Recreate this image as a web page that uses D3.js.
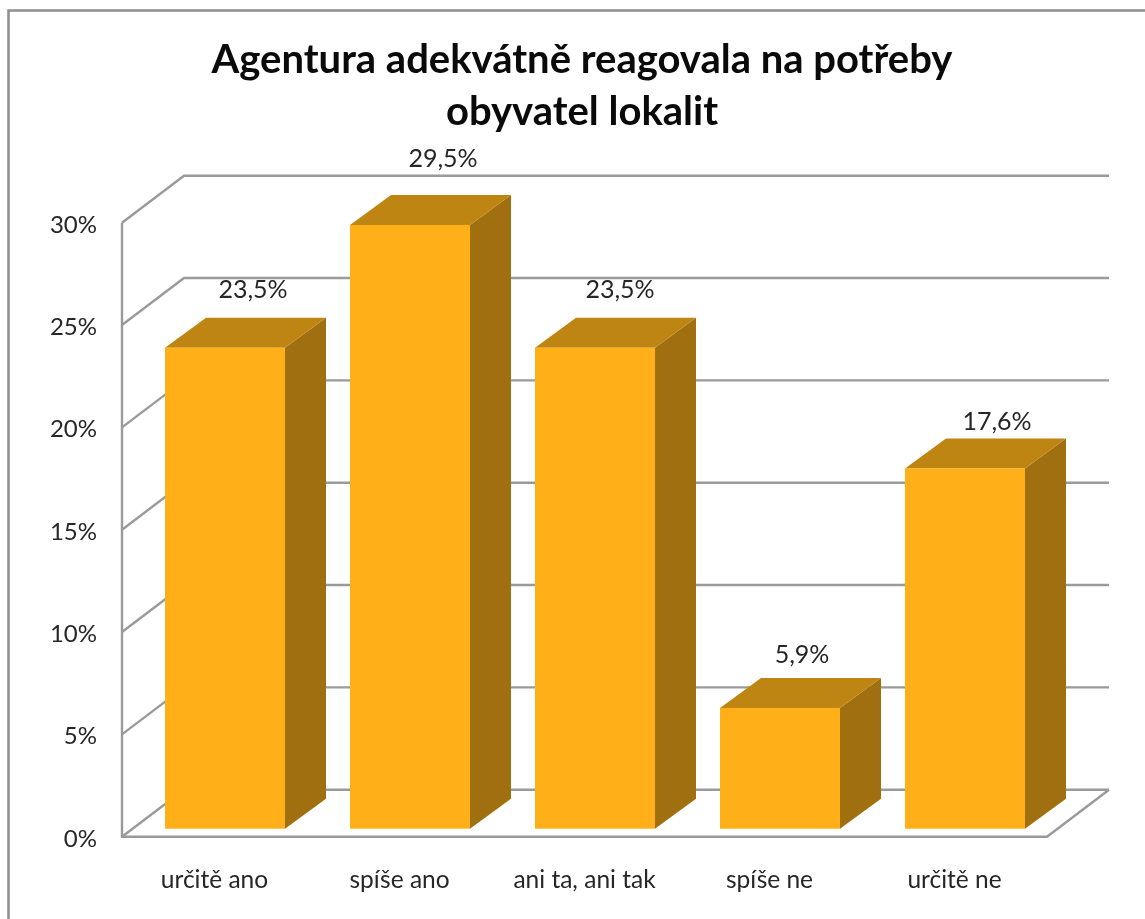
<!DOCTYPE html>
<html>
<head>
<meta charset="utf-8">
<script src="https://cdn.jsdelivr.net/npm/d3@7/dist/d3.min.js"></script>
<style>
html,body{margin:0;padding:0;background:#fff;}
svg{display:block;filter:blur(0.45px);}
text{font-family:Lato,"Noto Sans",sans-serif;fill:#262626;}
</style>
</head>
<body>
<svg id="c" width="1145" height="919"></svg>
<script>
const categories = ["určitě ano","spíše ano","ani ta, ani tak","spíše ne","určitě ne"];
const values = [23.5,29.5,23.5,5.9,17.6];
const valueLabels = ["23,5%","29,5%","23,5%","5,9%","17,6%"];
const yTicks = [0,5,10,15,20,25,30];
const titleLines = ["Agentura adekvátně reagovala na potřeby","obyvatel lokalit"];

const svg = d3.select("#c");
const plotL=122,plotR=1047,plotB=836.7,plotT=222.7;
const wallDx=62,wallDy=-47;       // wall depth
const barDx=41,barDy=-30;         // bar depth
const barInsetX=43,barInsetY=-8,barW=120;
const labelNudge=[[-13,1],[-8,-7],[-16,1],[-19,6],[-9,13]];
const grey="#9a9a9a";

const x=d3.scaleBand().domain(categories).range([plotL,plotR]);
const y=d3.scaleLinear().domain([0,30]).range([plotB,plotT]);

// chart frame
svg.append("path").attr("d","M8.5,919V10.5H1145").attr("fill","none").attr("stroke","#8f8f8f").attr("stroke-width",2.6);

// title
svg.append("g").selectAll("text").data(titleLines).join("text")
  .attr("x",582).attr("y",(d,i)=>73+i*52).attr("text-anchor","middle")
  .attr("font-size",40).attr("font-weight",700).style("fill","#0a0a0a").text(d=>d);

// walls and gridlines
const grid=svg.append("g").attr("fill","none").attr("stroke",grey).attr("stroke-width",2.4);
yTicks.forEach(t=>{
  grid.append("path").attr("d",`M${plotL},${y(t)}L${plotL+wallDx},${y(t)+wallDy}H${plotR+wallDx}`);
});
grid.append("path").attr("d",`M${plotL},${plotT}V${plotB}H${plotR}L${plotR+wallDx},${plotB+wallDy}`);

// value axis
const yAxis=svg.append("g").attr("transform",`translate(${plotL},0)`)
  .call(d3.axisLeft(y).tickValues(yTicks).tickSize(0).tickPadding(25).tickFormat(d=>d+"%"));
yAxis.select(".domain").remove();
yAxis.selectAll("text").attr("font-size",24).attr("dy","0.4em").style("fill","#262626");

// category axis
const xAxis=svg.append("g").attr("transform",`translate(0,${plotB})`)
  .call(d3.axisBottom(x).tickSize(0).tickPadding(34));
xAxis.select(".domain").remove();
xAxis.selectAll("text").attr("font-size",24.5).attr("dy","0.71em").style("fill","#262626");

// 3D bars
const bars=svg.append("g").selectAll("g").data(categories).join("g");
const bx=c=>x(c)+barInsetX;
const by=i=>y(values[i])+barInsetY;
const by0=y(0)+barInsetY;
bars.append("path").attr("fill","#A07010")
  .attr("d",(c,i)=>`M${bx(c)+barW},${by(i)}l${barDx},${barDy}V${by0+barDy}L${bx(c)+barW},${by0}Z`);
bars.append("path").attr("fill","#BF8512")
  .attr("d",(c,i)=>`M${bx(c)},${by(i)}l${barDx},${barDy}h${barW}l${-barDx},${-barDy}Z`);
bars.append("rect").attr("fill","#FFB018")
  .attr("x",bx).attr("y",(c,i)=>by(i)).attr("width",barW).attr("height",(c,i)=>by0-by(i));

// data labels
svg.append("g").selectAll("text").data(categories).join("text")
  .attr("x",(c,i)=>bx(c)+barW/2+barDx+labelNudge[i][0])
  .attr("y",(c,i)=>by(i)+barDy+labelNudge[i][1]-21)
  .attr("text-anchor","middle").attr("font-size",25).text((c,i)=>valueLabels[i]);
</script>
</body>
</html>
